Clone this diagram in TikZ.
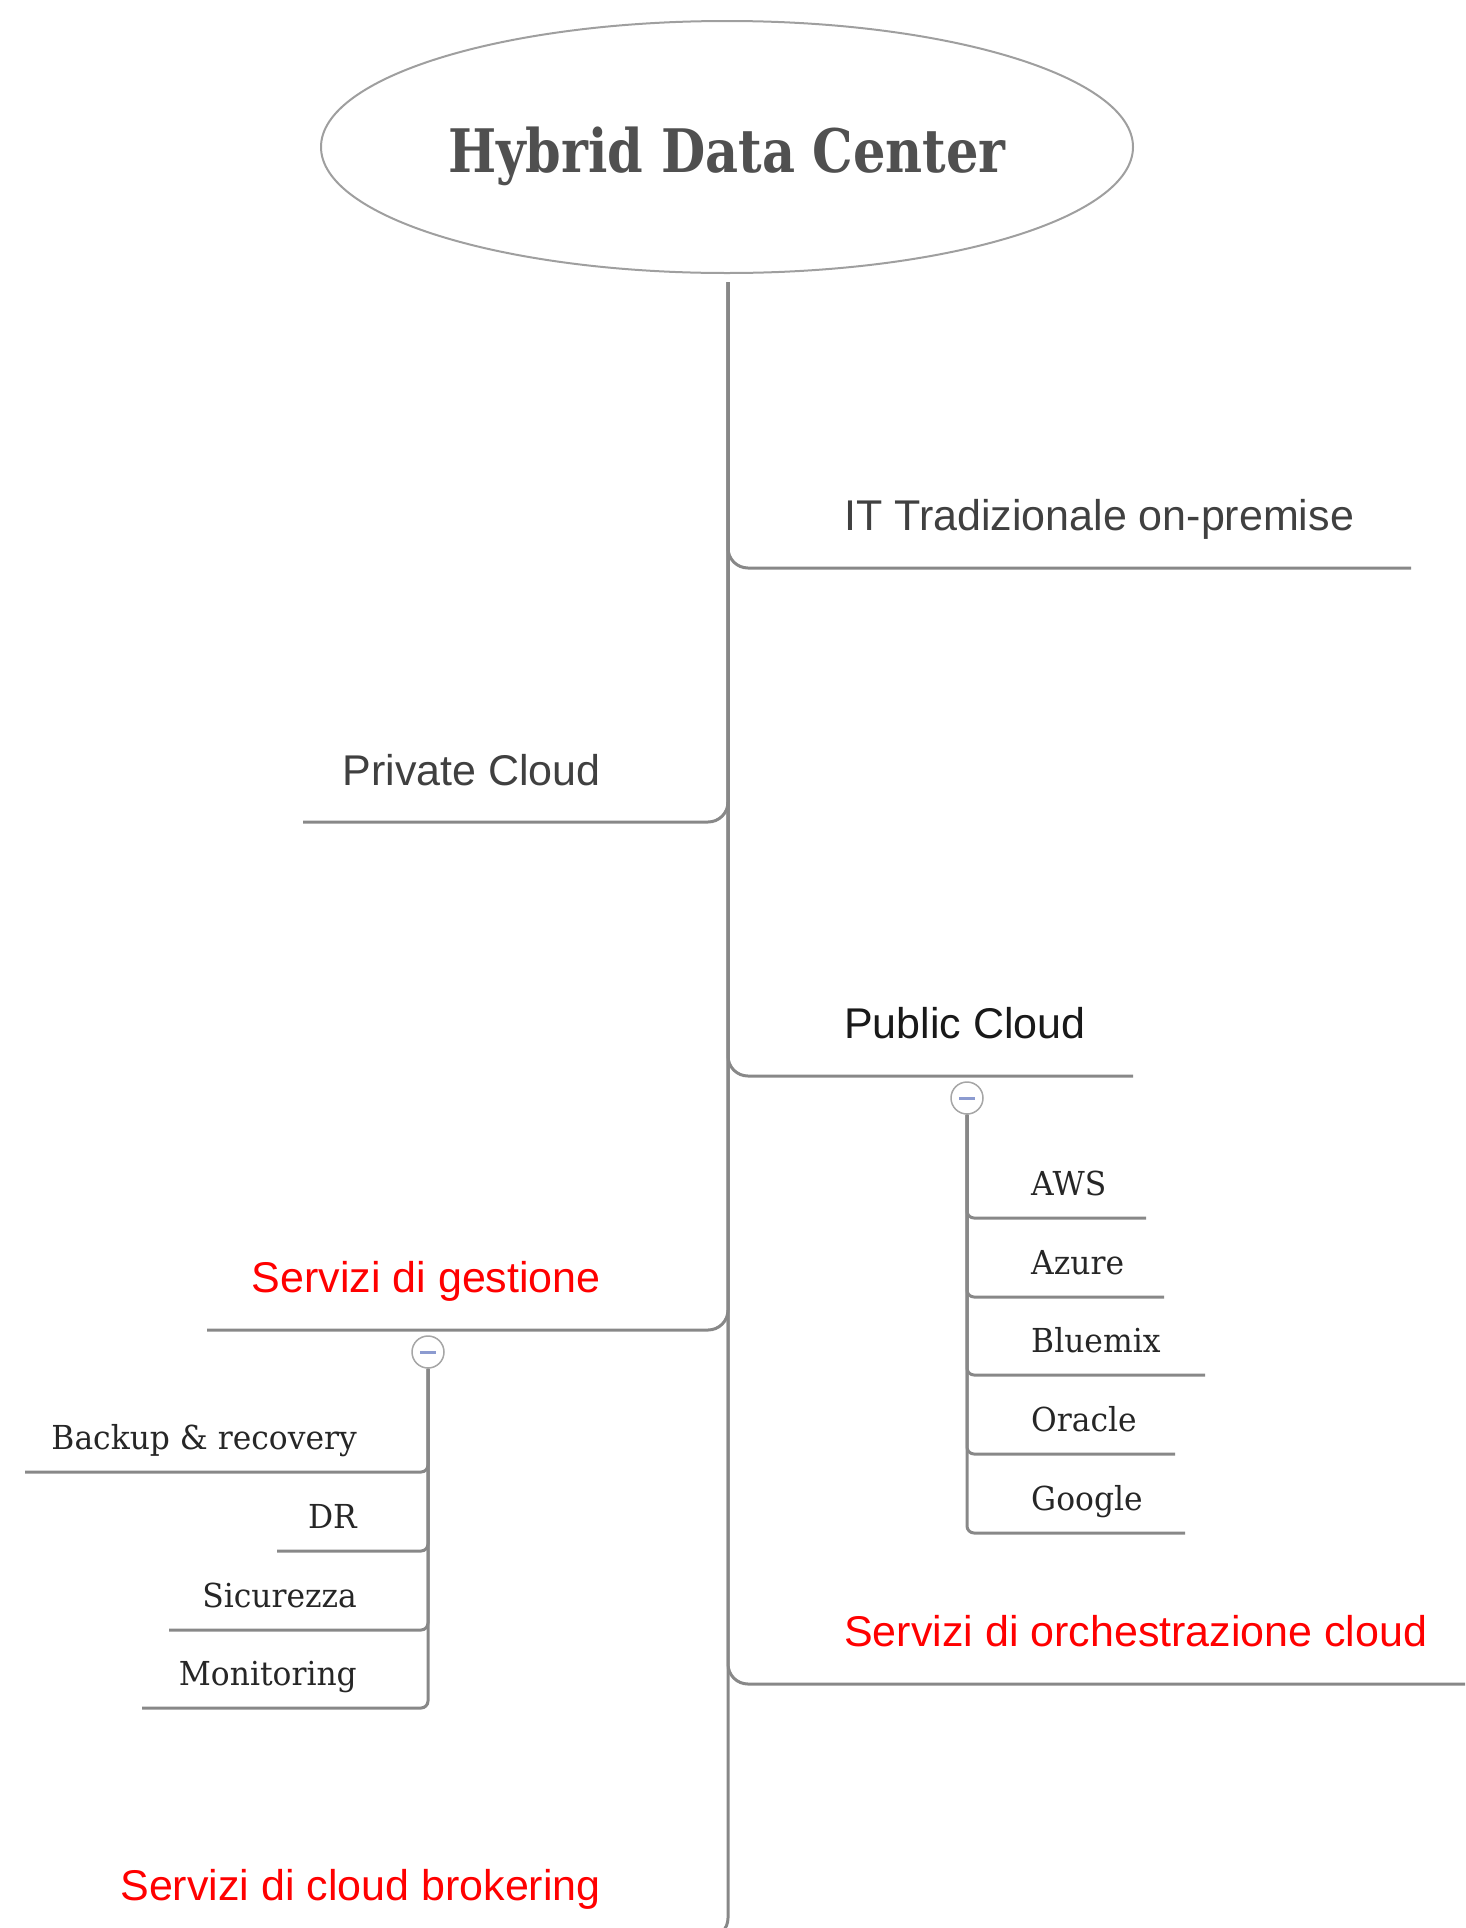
\documentclass[tikz,border=0pt]{standalone}
\usepackage{fontspec}
\setmainfont{Liberation Sans}
\newfontfamily\titlefont[FakeStretch=0.85]{DejaVu Serif}
\newfontfamily\slabfont[FakeStretch=0.95]{DejaVu Serif}
\usetikzlibrary{positioning,shapes.geometric}

\definecolor{linegray}{HTML}{888888}
\definecolor{textgray}{HTML}{404040}
\definecolor{titlegray}{HTML}{505050}
\definecolor{minusblue}{HTML}{8C9BD0}

\tikzset{
  branch/.style={draw=linegray, line width=3pt, rounded corners=20pt},
  twig/.style={draw=linegray, line width=3pt, rounded corners=7pt},
  mainlabel/.style={font=\fontsize{43}{50}\selectfont, text=textgray, inner sep=0pt},
  redlabel/.style={mainlabel, text=red},
  sublabel/.style={font=\slabfont\fontsize{33}{40}\selectfont, text=black!85, inner sep=0pt},
  toggle/.style={circle, draw=gray!70, line width=1.5pt, fill=white, minimum size=32pt, inner sep=0pt},
}

\begin{document}
\begin{tikzpicture}[x=1pt, y=-1pt]
\useasboundingbox (0,0) rectangle (1465,1928);
\clip (0,0) rectangle (1465,1928);

\node[ellipse, draw=gray!75, line width=2pt, minimum width=812pt, minimum height=252pt] (hdc) at (727,147) {};
\node[font=\titlefont\bfseries\fontsize{60}{70}\selectfont, text=titlegray, anchor=base] (title) at (727,172) {Hybrid Data Center};
\coordinate (trunk) at (728,282);

% main branches
\node[mainlabel, anchor=base west] (it) at (844,530) {IT Tradizionale on-premise};
\coordinate (it-end) at (1411,568);
\node[mainlabel, anchor=base east] (priv) at (601,785) {Private Cloud};
\coordinate (priv-end) at (303,822);
\node[mainlabel, anchor=base west, text=black!90] (pub) at (844,1038) {Public Cloud};
\coordinate (pub-end) at (1133,1076);
\node[redlabel, anchor=base east] (gest) at (601,1292) {Servizi di gestione};
\coordinate (gest-end) at (207,1330);
\node[redlabel, anchor=base west] (orch) at (844,1646) {Servizi di orchestrazione cloud};
\coordinate (orch-end) at (1500,1684);
\node[redlabel, anchor=base east] (brk) at (601,1900) {Servizi di cloud brokering};
\coordinate (brk-end) at (150,1938);

\draw[branch] (trunk) |- (it-end);
\draw[branch] (trunk) |- (priv-end);
\draw[branch] (trunk) |- (pub-end);
\draw[branch] (trunk) |- (gest-end);
\draw[branch] (trunk) |- (orch-end);
\draw[branch] (trunk) |- (brk-end);

% public cloud
\node[toggle] (pub-t) at (967,1098) {\textcolor{minusblue}{\rule{16pt}{3pt}}};
\node[sublabel, anchor=base west] (aws) at (1031,1195) {AWS};
\coordinate (aws-end) at (1146,1218);
\node[sublabel, anchor=base west] (azure) at (1031,1274) {Azure};
\coordinate (azure-end) at (1164,1297);
\node[sublabel, anchor=base west] (bmx) at (1031,1352) {Bluemix};
\coordinate (bmx-end) at (1205,1375);
\node[sublabel, anchor=base west] (orcl) at (1031,1431) {Oracle};
\coordinate (orcl-end) at (1175,1454);
\node[sublabel, anchor=base west] (ggl) at (1031,1510) {Google};
\coordinate (ggl-end) at (1185,1533);
\foreach \e in {aws-end,azure-end,bmx-end,orcl-end,ggl-end}
  \draw[twig] (pub-t.south) |- (\e);

% servizi di gestione
\node[toggle] (gest-t) at (428,1352) {\textcolor{minusblue}{\rule{16pt}{3pt}}};
\node[sublabel, anchor=base east] (bkp) at (357,1449) {Backup \& recovery};
\coordinate (bkp-end) at (25,1472);
\node[sublabel, anchor=base east] (dr) at (357,1528) {DR};
\coordinate (dr-end) at (277,1551);
\node[sublabel, anchor=base east] (sic) at (357,1607) {Sicurezza};
\coordinate (sic-end) at (169,1630);
\node[sublabel, anchor=base east] (mon) at (357,1685) {Monitoring};
\coordinate (mon-end) at (142,1708);
\foreach \e in {bkp-end,dr-end,sic-end,mon-end}
  \draw[twig] (gest-t.south) |- (\e);
\end{tikzpicture}
\end{document}
